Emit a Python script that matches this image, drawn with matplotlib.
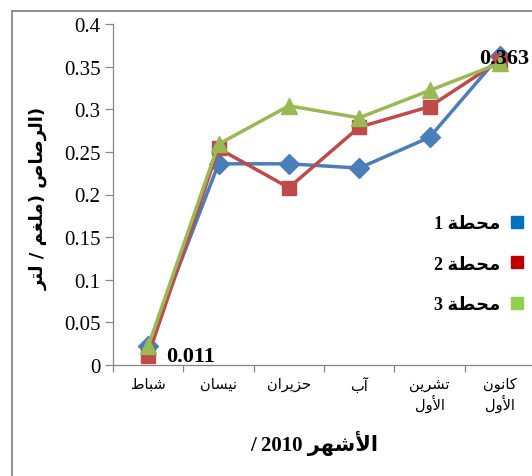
import matplotlib
matplotlib.use("Agg")
import matplotlib.pyplot as plt
from matplotlib.lines import Line2D
from matplotlib.patches import Rectangle
import numpy as np

# ---- data -------------------------------------------------------------
months = ["شباط", "نيسان", "حزيران", "آب", "تشرين\nالأول", "كانون\nالأول"]
station_names = ["محطة 1", "محطة 2", "محطة 3"]
station1 = [0.022, 0.236, 0.236, 0.231, 0.267, 0.363]
station2 = [0.011, 0.254, 0.208, 0.279, 0.303, 0.357]
station3 = [0.022, 0.259, 0.304, 0.290, 0.322, 0.354]
y_ticks = [0, 0.05, 0.1, 0.15, 0.2, 0.25, 0.3, 0.35, 0.4]
x_title = "الأشهر 2010 /"
y_title = "(الرصاص (ملغم / لتر"

# ---- minimal Arabic shaping (presentation forms, visual order) --------
FORMS = {'ا': (0xFE8D, 2), 'آ': (0xFE81, 2), 'أ': (0xFE83, 2), 'ب': (0xFE8F, 4),
         'ة': (0xFE93, 2), 'ت': (0xFE95, 4), 'ح': (0xFEA1, 4), 'ر': (0xFEAD, 2),
         'ز': (0xFEAF, 2), 'س': (0xFEB1, 4), 'ش': (0xFEB5, 4), 'ص': (0xFEB9, 4),
         'ط': (0xFEC1, 4), 'غ': (0xFECD, 4), 'ك': (0xFED9, 4), 'ل': (0xFEDD, 4),
         'م': (0xFEE1, 4), 'ن': (0xFEE5, 4), 'ه': (0xFEE9, 4), 'و': (0xFEED, 2),
         'ي': (0xFEF1, 4)}
LAM_ALEF = {'ا': 0xFEFB, 'أ': 0xFEF7, 'آ': 0xFEF5}
MIRROR = {'(': ')', ')': '('}


def shape_token(tok):
    if not any(c in FORMS for c in tok):
        return tok
    out, i, prev_joins = [], 0, False
    while i < len(tok):
        c = tok[i]
        if c not in FORMS:
            out.append(c)
            prev_joins = False
            i += 1
            continue
        nxt = tok[i + 1] if i + 1 < len(tok) else ''
        if c == 'ل' and nxt in LAM_ALEF:
            out.append(chr(LAM_ALEF[nxt] + (1 if prev_joins else 0)))
            prev_joins = False
            i += 2
            continue
        base, n = FORMS[c]
        join_next = n == 4 and nxt in FORMS
        if prev_joins and join_next:
            off = 3
        elif join_next:
            off = 2
        elif prev_joins:
            off = 1
        else:
            off = 0
        out.append(chr(base + off))
        prev_joins = n == 4
        i += 1
    return ''.join(MIRROR.get(g, g) for g in reversed(out))


def visual(text):
    lines = []
    for line in text.split('\n'):
        toks = line.split(' ')
        lines.append(' '.join(shape_token(t) for t in reversed(toks)))
    return '\n'.join(lines)


# ---- styling ----------------------------------------------------------
line_colors = ["#4A7EBB", "#BE4B48", "#98B954"]
legend_colors = ["#0070C0", "#C00000", "#92D050"]
markers = ["D", "s", "^"]
msizes = [10.5, 10, 11.5]
serif = ["Liberation Serif", "DejaVu Sans"]
arabic_sans = ["DejaVu Sans"]
grey = "#868686"

W, H = 532, 477
fig = plt.figure(figsize=(W / 100, H / 100), dpi=100)
fig.patch.set_facecolor("white")

# outer chart border (runs past the right/bottom edge)
fig.patches.append(Rectangle((12 / W, -0.1), 1.2, (H - 12) / H + 0.1,
                             transform=fig.transFigure, fill=False,
                             edgecolor=grey, linewidth=1.3))

ax = fig.add_axes([113 / W, 111 / H, 422 / W, 341 / H])
x = np.arange(len(months))
series = [station1, station2, station3]
for vals, col, mk, ms in zip(series, line_colors, markers, msizes):
    ax.plot(x, vals, color=col, linewidth=2.5, marker=mk, markersize=ms,
            markerfacecolor=col, markeredgecolor=col, clip_on=False)

ax.set_xlim(-0.5, len(months) - 0.5)
ax.set_ylim(0, 0.4)

for s in ["top", "right"]:
    ax.spines[s].set_visible(False)
for s in ["left", "bottom"]:
    ax.spines[s].set_color(grey)
    ax.spines[s].set_linewidth(0.9)

ax.set_yticks(y_ticks)
ax.set_yticklabels([f"{v:g}" for v in y_ticks], fontfamily=serif, fontsize=15)
ax.tick_params(axis="y", length=6, width=0.9, color=grey, pad=3)

ax.set_xticks(x)
ax.set_xticklabels([visual(m) for m in months], fontfamily=arabic_sans,
                   fontsize=10.5, linespacing=1.15)
ax.tick_params(axis="x", which="major", length=0, pad=8)
ax.set_xticks(np.arange(-0.5, len(months), 1.0), minor=True)
ax.tick_params(axis="x", which="minor", length=5, width=0.9, color=grey)

ax.set_xlabel(visual(x_title), fontfamily=serif, fontweight="bold", fontsize=15)
ax.xaxis.set_label_coords((314 - 113) / 422, (366 - 431) / 341)
ax.set_ylabel(visual(y_title), fontfamily=arabic_sans, fontweight="bold", fontsize=13)
ax.yaxis.set_label_coords((48 - 113) / 422, 0.49)

# data labels
ax.annotate(f"{station2[0]:.3f}", (x[0], station2[0]), xytext=(13, 0),
            textcoords="offset points", ha="left", va="center",
            fontfamily=serif, fontweight="bold", fontsize=16)
ax.annotate(f"{station1[-1]:.3f}", (x[-1], station1[-1]), xytext=(3, -2),
            textcoords="offset points", ha="center", va="center",
            fontfamily=serif, fontweight="bold", fontsize=16)

handles = [Line2D([], [], linestyle="none", marker="s", markersize=9,
                  markerfacecolor=c, markeredgecolor=c) for c in legend_colors]
leg = ax.legend(handles, [visual(n) for n in station_names], loc="upper right",
                bbox_to_anchor=(540 / W, (H - 200) / H), bbox_transform=fig.transFigure,
                frameon=False, markerfirst=False, handlelength=0.8,
                handletextpad=0.5, labelspacing=1.3,
                prop={"family": serif, "weight": "bold", "size": 13})

fig.savefig("out.png", dpi=100)
